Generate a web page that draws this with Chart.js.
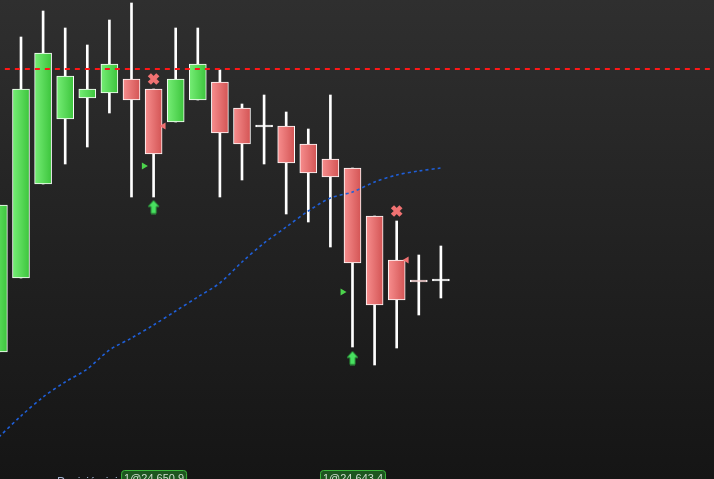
<!DOCTYPE html>
<html>
<head>
    <meta charset="utf-8">
    <title>Candles</title>
    <style>
        html, body { margin: 0; padding: 0; background: #161616; overflow: hidden; }
        canvas { display: block; }
    </style>
</head>
<body>
    <canvas id="myChart" width="714" height="479"></canvas>
    <script src="https://cdn.jsdelivr.net/npm/chart.js"></script>
    <script>
        // bar values, one entry per candle
        const opens  = [24654.8, 24662.2, 24671.6, 24678.1, 24680.2, 24680.7, 24682.1, 24681.1, 24677.8, 24680.0, 24681.8,
                        24679.2, 24677.3, 24677.4, 24675.6, 24674.1, 24673.2, 24668.4, 24664.0, 24662.0, 24661.9];
        const highs  = [24669.5, 24686.3, 24688.9, 24687.2, 24685.5, 24688.0, 24689.7, 24681.1, 24687.2, 24687.2, 24683.0,
                        24679.6, 24680.5, 24678.8, 24677.1, 24680.5, 24673.2, 24668.4, 24667.9, 24664.5, 24665.4];
        const lows   = [24654.8, 24662.2, 24671.6, 24673.6, 24675.3, 24678.7, 24670.3, 24670.3, 24677.8, 24680.0, 24670.3,
                        24672.0, 24673.6, 24668.6, 24667.8, 24665.3, 24655.3, 24653.5, 24655.2, 24658.5, 24660.2];
        const closes = [24669.5, 24681.1, 24684.7, 24682.4, 24681.1, 24683.6, 24680.0, 24674.6, 24682.1, 24683.6, 24676.7,
                        24675.6, 24677.3, 24673.7, 24672.7, 24672.3, 24663.7, 24659.5, 24660.0, 24661.8, 24661.9];
        const avgLine = [24646.3, 24648.4, 24650.3, 24651.8, 24653.1, 24655.0, 24656.2, 24657.5, 24658.9, 24660.3, 24661.7,
                         24663.8, 24665.7, 24667.3, 24668.9, 24670.2, 24670.8, 24671.8, 24672.5, 24672.9, 24673.2];

        const stopLevel = 24683.1;
        const stopFrom = 0.27;

        const exitX = [7, 18];
        const exitY = [24682.1, 24668.9];
        const buyX = [7, 16];
        const buyY = [24669.3, 24654.2];
        const entryX = [6.56, 15.55];
        const entryY = [24673.4, 24660.8];
        const fillX = [7.45, 18.45];
        const fillY = [24677.4, 24664.0];

        const tradeX = [7, 16];
        const tradeText = ['1@24,650.9', '1@24,643.4'];
        const posText = 'Posición inicial';

        const idx = opens.map((_, i) => i);

        const arrowImg = document.createElement('canvas');
        arrowImg.width = 13;
        arrowImg.height = 15;
        (() => {
            let c = arrowImg.getContext('2d');
            c.beginPath();
            c.moveTo(6.5, 1);
            c.lineTo(12, 7);
            c.lineTo(9, 7);
            c.lineTo(9, 14);
            c.lineTo(4, 14);
            c.lineTo(4, 7);
            c.lineTo(1, 7);
            c.closePath();
            c.fillStyle = '#48e060';
            c.fill();
            c.strokeStyle = '#2c9c3c';
            c.lineWidth = 1;
            c.stroke();
        })();

        const bodyColor = (ctx) => {
            if (ctx.type !== 'data') return '#ffffff';
            let i = ctx.dataIndex;
            if (opens[i] === closes[i]) return '#ffffff';
            let up = closes[i] > opens[i];
            let px = ctx.chart.scales.x ? ctx.chart.scales.x.getPixelForValue(i) : NaN;
            if (!isFinite(px)) return up ? '#58da58' : '#e87070';
            let g = ctx.chart.ctx.createLinearGradient(px - 8, 0, px + 8, 0);
            if (up) {
                g.addColorStop(0, '#74ec74');
                g.addColorStop(1, '#3ec63e');
            } else {
                g.addColorStop(0, '#f68c8c');
                g.addColorStop(1, '#d45656');
            }
            return g;
        };

        const bgPlugin = {
            id: 'bg',
            beforeDraw: (chart) => {
                let c = chart.ctx;
                let g = c.createLinearGradient(0, 0, 0, 479);
                g.addColorStop(0, '#2f2f2f');
                g.addColorStop(1, '#151515');
                c.save();
                c.fillStyle = g;
                c.fillRect(0, 0, 714, 479);
                c.restore();
            }
        };

        const tradeLabels = {
            id: 'tradeLabels',
            afterDraw: (chart) => {
                let c = chart.ctx;
                c.save();
                c.font = '12px "Liberation Sans"';
                c.fillStyle = '#9fb0cc';
                c.textAlign = 'left';
                c.fillText(posText, 57, 486);
                c.font = '11px "Liberation Sans"';
                c.textAlign = 'center';
                tradeX.forEach((tx, k) => {
                    let px = chart.scales.x.getPixelForValue(tx);
                    c.beginPath();
                    c.roundRect(px - 32, 470.5, 65, 20, 3);
                    c.fillStyle = '#1d561f';
                    c.fill();
                    c.strokeStyle = '#3cb83c';
                    c.lineWidth = 1;
                    c.stroke();
                    c.fillStyle = '#d0dcd0';
                    c.fillText(tradeText[k], px + 0.5, 482);
                });
                c.restore();
            }
        };

        const data = {
            datasets: [
                {
                    type: 'bar',
                    label: 'wicks',
                    data: idx.map(i => ({x: i, y: [lows[i], highs[i]]})),
                    backgroundColor: '#ffffff',
                    barThickness: 2,
                    grouped: false,
                    order: 5
                },
                {
                    type: 'bar',
                    label: 'bodies',
                    data: idx.map(i => ({x: i, y: [Math.min(opens[i], closes[i]), Math.max(opens[i], closes[i])]})),
                    backgroundColor: bodyColor,
                    borderColor: '#ffffff',
                    borderWidth: 1,
                    borderSkipped: false,
                    barThickness: 17,
                    minBarLength: 2,
                    grouped: false,
                    order: 4
                },
                {
                    type: 'line',
                    label: 'average',
                    data: idx.map(i => ({x: i, y: avgLine[i]})),
                    borderColor: '#1f5fd8',
                    borderWidth: 1.6,
                    borderDash: [3, 3],
                    pointRadius: 0,
                    tension: 0.3,
                    order: 3
                },
                {
                    type: 'line',
                    label: 'stop',
                    data: [{x: stopFrom, y: stopLevel}, {x: 33, y: stopLevel}],
                    borderColor: '#ff1616',
                    borderWidth: 2,
                    borderDash: [5, 5],
                    pointRadius: 0,
                    order: 3
                },
                {
                    type: 'scatter',
                    label: 'exit',
                    data: exitX.map((x, k) => ({x: x, y: exitY[k]})),
                    pointStyle: 'crossRot',
                    pointRadius: 6,
                    borderWidth: 4.5,
                    borderColor: '#f07272',
                    order: 1
                },
                {
                    type: 'scatter',
                    label: 'buy',
                    data: buyX.map((x, k) => ({x: x, y: buyY[k]})),
                    pointStyle: arrowImg,
                    order: 1
                },
                {
                    type: 'scatter',
                    label: 'entry',
                    data: entryX.map((x, k) => ({x: x, y: entryY[k]})),
                    pointStyle: 'triangle',
                    rotation: 90,
                    pointRadius: 4,
                    borderWidth: 0,
                    backgroundColor: '#4cd44c',
                    order: 1
                },
                {
                    type: 'scatter',
                    label: 'fill',
                    data: fillX.map((x, k) => ({x: x, y: fillY[k]})),
                    pointStyle: 'triangle',
                    rotation: -90,
                    pointRadius: 4,
                    borderWidth: 0,
                    backgroundColor: '#f07272',
                    order: 1
                }
            ]
        };

        const config = {
            type: 'bar',
            data: data,
            plugins: [bgPlugin, tradeLabels],
            options: {
                responsive: false,
                animation: false,
                layout: { padding: 0, autoPadding: false },
                plugins: { legend: { display: false }, tooltip: { enabled: false } },
                scales: {
                    x: { type: 'linear', min: 0.0498, max: 32.358, offset: false, display: false },
                    y: { type: 'linear', min: 24642.1, max: 24690, display: false }
                }
            }
        };

        const myChart = new Chart(document.getElementById('myChart'), config);
        // second pass so the body gradients see the finished x scale
        myChart.update();
    </script>
</body>
</html>
